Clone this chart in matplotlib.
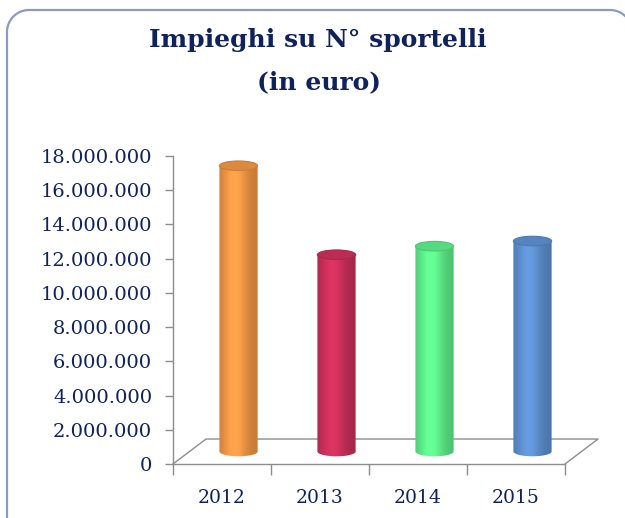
import numpy as np
import matplotlib
matplotlib.use("Agg")
import matplotlib.pyplot as plt
from matplotlib.patches import Polygon, Ellipse, PathPatch
from matplotlib.path import Path
from matplotlib.transforms import Affine2D

# data
years = ["2012", "2013", "2014", "2015"]
impieghi = [16700000, 11500000, 12000000, 12300000]
bar_colors = ["#fa9d48", "#d3325e", "#62f890", "#6196d8"]
yticks = list(range(0, 18000001, 2000000))

navy = "#10225c"
grid_gray = "#8c8c8c"

W, H = 625, 518
fig = plt.figure(figsize=(W / 100, H / 100), dpi=100)

# rounded frame, in pixel coords measured from the top-left corner
r = 22
left, top, right, bottom = 7, 10, 632, 540
a = np.linspace(0, np.pi / 2, 20)
pts = [(left, bottom)]
pts += [(left + r - r * np.cos(t), top + r - r * np.sin(t)) for t in a]
pts += [(right - r + r * np.sin(t), top + r - r * np.cos(t)) for t in a]
pts += [(right, bottom)]
to_fig = Affine2D().scale(1 / W, -1 / H).translate(0, 1) + fig.transFigure
frame = PathPatch(Path(pts), transform=to_fig, fill=False,
                  edgecolor="#8a9bbd", linewidth=1.6)
fig.patches.append(frame)

fig.text(0.509, 0.922, "Impieghi su N° sportelli", ha="center", va="center",
         fontsize=18, fontweight="bold", family="DejaVu Serif", color=navy)
fig.text(0.511, 0.842, "(in euro)", ha="center", va="center",
         fontsize=18, fontweight="bold", family="DejaVu Serif", color=navy)

ax = fig.add_axes([173 / W, 54 / H, 392 / W, 308 / H])

# 3d depth offset (in data units)
dx = 0.337
dy = 1460000

# floor
floor_x = [-0.5, -0.5 + dx, 3.5 + dx, 3.5]
floor_y = [0, dy, dy, 0]
ax.plot(floor_x, floor_y, color=grid_gray, lw=1.0, clip_on=False, zorder=1)

def shade(t):
    # light band slightly left of centre, darker edges
    return 0.78 + 0.27 * np.exp(-((t - 0.4) / 0.32) ** 2)

bw = 0.39
eh = 560000
for i, (v, c) in enumerate(zip(impieghi, bar_colors)):
    xc = i + dx / 2
    y0 = dy / 2
    y1 = y0 + v
    x0, x1 = xc - bw / 2, xc + bw / 2
    th = np.linspace(np.pi, 2 * np.pi, 40)
    bot = np.column_stack([xc + bw / 2 * np.cos(th), y0 + eh / 2 * np.sin(th)])
    outline = np.vstack([[x0, y1], bot, [x1, y1]])
    clip = Polygon(outline, closed=True, transform=ax.transData,
                   facecolor="none", edgecolor="none")
    ax.add_patch(clip)
    base = np.array(matplotlib.colors.to_rgb(c))
    t = np.linspace(0, 1, 100)
    img = np.clip(base[None, :] * shade(t)[:, None], 0, 1)[None, :, :]
    im = ax.imshow(img, extent=[x0, x1, y0 - eh, y1], aspect="auto",
                   interpolation="bilinear", zorder=3)
    im.set_clip_path(clip)
    cap = Ellipse((xc, y1), bw, eh, facecolor=np.clip(base * 0.88, 0, 1),
                  edgecolor=np.clip(base * 0.8, 0, 1), lw=0.8, zorder=4)
    ax.add_patch(cap)

ax.set_xlim(-0.5, 3.5)
ax.set_ylim(0, 18000000)

for s in ["top", "right"]:
    ax.spines[s].set_visible(False)
for s in ["left", "bottom"]:
    ax.spines[s].set_color(grid_gray)
    ax.spines[s].set_linewidth(1.0)

ax.set_yticks(yticks)
ax.set_yticklabels(["{:,}".format(v).replace(",", ".") for v in yticks],
                   family="DejaVu Serif", fontsize=14, color=navy)
ax.tick_params(axis="y", length=6, width=1, color=grid_gray, pad=9)

ax.set_xticks(range(len(years)))
ax.set_xticklabels(years, family="DejaVu Serif", fontsize=13.5, color=navy)
ax.tick_params(axis="x", which="major", length=0, pad=18)
ax.set_xticks(np.arange(-0.5, 4.0, 1.0), minor=True)
ax.tick_params(axis="x", which="minor", length=8, width=1, color=grid_gray)

fig.savefig("out.png", dpi=100, facecolor="white")
